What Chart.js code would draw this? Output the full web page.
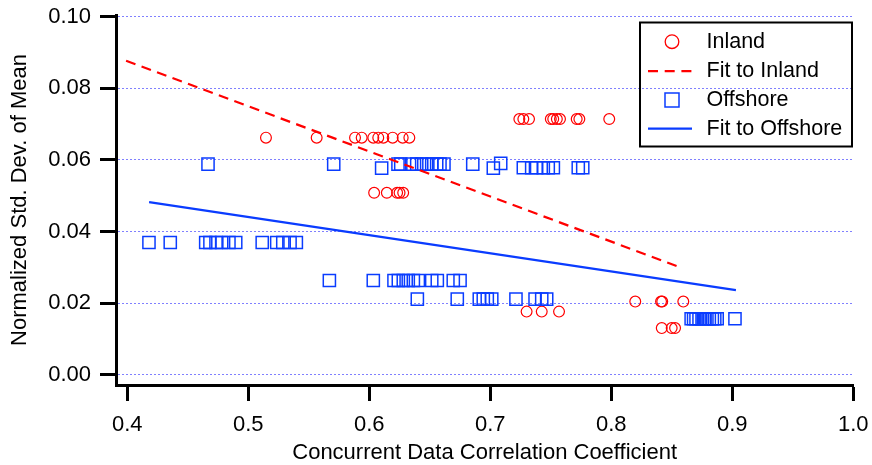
<!DOCTYPE html>
<html>
<head>
<meta charset="utf-8">
<script src="https://cdn.jsdelivr.net/npm/chart.js@4/dist/chart.umd.min.js"></script>
<style>
  html, body { margin: 0; padding: 0; background: #fff; }
  #c { display: block; }
</style>
</head>
<body>
<canvas id="c" width="872" height="465"></canvas>
<script>
// ---- data ----
var inlandX = [
  0.5146, 0.5565, 0.5882, 0.5937, 0.6033, 0.6074, 0.6116, 0.6193, 0.6276, 0.6331,
  0.7240, 0.7273, 0.7320, 0.7500, 0.7520, 0.7550, 0.7576, 0.7714, 0.7736, 0.7983,
  0.6040, 0.6145, 0.6230, 0.6250, 0.6280,
  0.7300, 0.7425, 0.7568,
  0.8198, 0.8411, 0.8421, 0.8595,
  0.8417, 0.8499, 0.8527
];
var inlandY = [
  0.0662, 0.0662, 0.0662, 0.0662, 0.0662, 0.0662, 0.0662, 0.0662, 0.0662, 0.0662,
  0.0714, 0.0714, 0.0714, 0.0714, 0.0714, 0.0714, 0.0714, 0.0714, 0.0714, 0.0714,
  0.0508, 0.0508, 0.0508, 0.0508, 0.0508,
  0.0176, 0.0176, 0.0176,
  0.0204, 0.0204, 0.0204, 0.0204,
  0.0130, 0.0130, 0.0130
];
var offshoreX = [
  0.4667, 0.5706, 0.6237, 0.6260, 0.6350, 0.6392, 0.6433, 0.6474, 0.6516, 0.6557, 0.6584, 0.6617, 0.6855, 0.7086,
  0.6102, 0.7025, 0.7273, 0.7342, 0.7383, 0.7438, 0.7479, 0.7521, 0.7727, 0.7764,
  0.4179, 0.4355, 0.4648, 0.4683, 0.4733, 0.4780, 0.4840, 0.4896, 0.5115, 0.5235, 0.5285, 0.5345, 0.5397,
  0.5670, 0.6033, 0.6204, 0.6240, 0.6281, 0.6322, 0.6364, 0.6405, 0.6516, 0.6562, 0.6694, 0.6750,
  0.6397, 0.6727, 0.6909, 0.6942, 0.6975, 0.7012, 0.7212, 0.7370, 0.7425, 0.7466,
  0.8660, 0.8680, 0.8700, 0.8725, 0.8750, 0.8770, 0.8790, 0.8810, 0.8835, 0.8855, 0.8875, 0.9022
];
var offshoreY = [
  0.0588, 0.0588, 0.0588, 0.0588, 0.0588, 0.0588, 0.0588, 0.0588, 0.0588, 0.0588, 0.0588, 0.0588, 0.0588, 0.0590,
  0.0577, 0.0577, 0.0578, 0.0578, 0.0578, 0.0578, 0.0578, 0.0578, 0.0578, 0.0578,
  0.0369, 0.0369, 0.0369, 0.0369, 0.0369, 0.0369, 0.0369, 0.0369, 0.0369, 0.0369, 0.0369, 0.0369, 0.0369,
  0.0263, 0.0263, 0.0263, 0.0263, 0.0263, 0.0263, 0.0263, 0.0263, 0.0263, 0.0263, 0.0263, 0.0263,
  0.0211, 0.0211, 0.0211, 0.0211, 0.0211, 0.0211, 0.0211, 0.0211, 0.0211, 0.0211,
  0.0156, 0.0156, 0.0156, 0.0156, 0.0156, 0.0156, 0.0156, 0.0156, 0.0156, 0.0156, 0.0156, 0.0156
];
// fitted lines, end points only
var fitInlandX = [0.399, 0.856];
var fitInlandY = [0.0877, 0.0301];
var fitOffshoreX = [0.418, 0.903];
var fitOffshoreY = [0.0482, 0.0236];

var xTicks = [0.4, 0.5, 0.6, 0.7, 0.8, 0.9, 1.0];
var yTicks = [0.00, 0.02, 0.04, 0.06, 0.08, 0.10];
var seriesNames = ['Inland', 'Fit to Inland', 'Offshore', 'Fit to Offshore'];

var RED = '#ff0000', BLUE = '#0a3cff', GRID = '#8080ff';
var FONT = "'Liberation Sans', Arial, sans-serif";

function pts(xs, ys) { return xs.map(function (x, i) { return { x: x, y: ys[i] }; }); }
// fixed axis box: no extra room for edge labels
function noPad(s) { s.paddingTop = 0; s.paddingBottom = 0; s.paddingLeft = 0; s.paddingRight = 0; }

// legend box drawn by hand (bordered, symbol + text rows)
var boxLegend = {
  id: 'boxLegend',
  afterDraw: function (ch) {
    var ct = ch.ctx;
    ct.save();
    ct.lineWidth = 2; ct.strokeStyle = '#000';
    ct.strokeRect(640, 22.5, 212, 124);
    var rows = [41.7, 71.2, 100, 128.6];
    var sx = 672, tx = 706.5;
    // Inland circle
    ct.lineWidth = 1.3; ct.strokeStyle = RED;
    ct.beginPath(); ct.arc(sx, rows[0], 6.8, 0, Math.PI * 2); ct.stroke();
    // dashed fit
    ct.lineWidth = 2.2; ct.setLineDash([10, 6.7]);
    ct.beginPath(); ct.moveTo(648, rows[1]); ct.lineTo(692, rows[1]); ct.stroke();
    ct.setLineDash([]);
    // Offshore square
    ct.lineWidth = 1.5; ct.strokeStyle = BLUE;
    ct.strokeRect(sx - 7, rows[2] - 7, 14, 14);
    // solid fit
    ct.lineWidth = 2.2;
    ct.beginPath(); ct.moveTo(648, rows[3]); ct.lineTo(692, rows[3]); ct.stroke();
    ct.fillStyle = '#000'; ct.font = '21.5px ' + FONT; ct.textBaseline = 'middle'; ct.textAlign = 'left';
    seriesNames.forEach(function (n, i) { ct.fillText(n, tx, rows[i]); });
    ct.restore();
  }
};

var tickFont = { family: FONT, size: 22 };

new Chart(document.getElementById('c').getContext('2d'), {
  type: 'scatter',
  data: {
    datasets: [
      { label: seriesNames[0], data: pts(inlandX, inlandY), order: 2, pointStyle: 'circle', pointRadius: 5.4, pointBorderWidth: 1.2, borderColor: RED, backgroundColor: 'rgba(0,0,0,0)' },
      { label: seriesNames[2], data: pts(offshoreX, offshoreY), order: 1, pointStyle: 'rect', pointRadius: 8.6, pointBorderWidth: 1.5, borderColor: BLUE, backgroundColor: 'rgba(0,0,0,0)' },
      { label: seriesNames[1], data: pts(fitInlandX, fitInlandY), order: 0, showLine: true, pointRadius: 0, borderColor: RED, borderWidth: 2.2, borderDash: [10, 6.5] },
      { label: seriesNames[3], data: pts(fitOffshoreX, fitOffshoreY), order: 0, showLine: true, pointRadius: 0, borderColor: BLUE, borderWidth: 2.2 }
    ]
  },
  options: {
    responsive: false, animation: false,
    layout: { padding: { top: 15, right: 18.7, left: 0, bottom: 0 } },
    plugins: { legend: { display: false }, tooltip: { enabled: false } },
    scales: {
      x: {
        type: 'linear', min: 0.39066, max: 1.0,
        afterBuildTicks: function (s) { s.ticks = xTicks.map(function (v) { return { value: v }; }); },
        afterFit: function (s) { s.height = 80; noPad(s); },
        grid: { drawOnChartArea: false, tickLength: 16, tickWidth: 3, tickColor: '#000' },
        border: { width: 3, color: '#000' },
        ticks: { color: '#000', font: tickFont, padding: 11, maxRotation: 0, callback: function (v) { return v.toFixed(1); } },
        title: { display: true, text: 'Concurrent Data Correlation Coefficient', color: '#000', font: { family: FONT, size: 22, lineHeight: 1.1 }, padding: { top: 0, bottom: 0 } }
      },
      y: {
        type: 'linear', min: -0.0029, max: 0.10047,
        afterBuildTicks: function (s) { s.ticks = yTicks.map(function (v) { return { value: v }; }); },
        afterFit: function (s) { s.width = 116; noPad(s); },
        grid: { color: GRID, lineWidth: 1, tickLength: 16, tickWidth: 3, tickColor: '#000' },
        border: { width: 3, color: '#000', dash: [2, 2] },
        ticks: { color: '#000', font: tickFont, padding: 9, callback: function (v) { return v.toFixed(2); } },
        title: { display: true, text: 'Normalized Std. Dev. of Mean', color: '#000', font: { family: FONT, size: 22, lineHeight: 1.1 }, padding: { top: 8, bottom: 0 } }
      }
    }
  },
  plugins: [boxLegend]
});
</script>
</body>
</html>
